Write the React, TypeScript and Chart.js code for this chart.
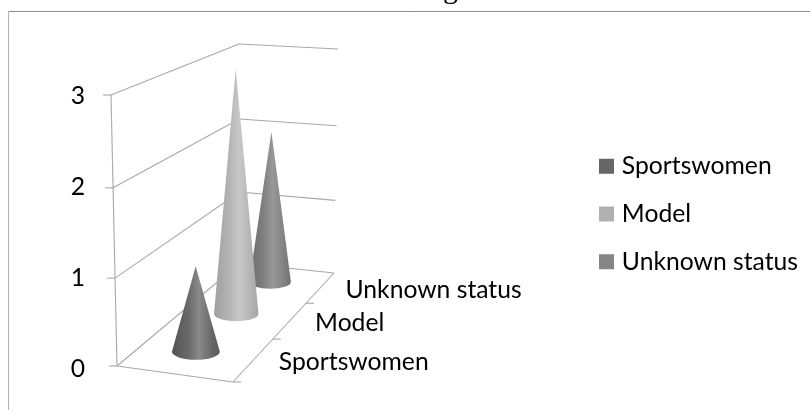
import React, { useEffect, useRef } from "react";
import { Chart, registerables, BarController } from "chart.js";

const categories = ["Sportswomen", "Model", "Unknown status"];
const sportswomen = [1, null, null];
const model = [null, 3, null];
const unknownStatus = [null, null, 2];
const legendColors = ["#666666", "#b0b0b0", "#858585"];
const coneStops = [
  [[0, "#545454"], [0.35, "#6a6a6a"], [0.56, "#8a8a8a"], [0.85, "#666666"], [1, "#5a5a5a"]],
  [[0, "#a0a0a0"], [0.35, "#b4b4b4"], [0.56, "#c8c8c8"], [0.85, "#b2b2b2"], [1, "#a6a6a6"]],
  [[0, "#6c6c6c"], [0.35, "#808080"], [0.56, "#989898"], [0.85, "#808080"], [1, "#727272"]],
];
const tickValues = [0, 1, 2, 3];
const titleFragment = "g";

const FONT = "Lato";
const FONT_SIZE = 24.7;
const GRID = "#a8a8a8";

// Frame of the 3D box: [bottom corner, top corner]
const FL = [[117, 366], [111, 95]];
const BL = [[240, 263], [239, 44]];
const FR = [[233, 382], [228, 102]];
const BR = [[334, 273], [338, 49]];
const PERSPECTIVE = 1.3;
const VERTICAL = 0.96;

const lerp = (a: number, b: number, t: number) => a + (b - a) * t;
const lerpP = (a: number[], b: number[], t: number) => [lerp(a[0], b[0], t), lerp(a[1], b[1], t)];

function project(t: number, u: number, vRaw: number) {
  const f = (PERSPECTIVE * t) / (1 + (PERSPECTIVE - 1) * t);
  const v = (VERTICAL * vRaw) / (1 + (VERTICAL - 1) * vRaw);
  const left = lerpP(lerpP(FL[0], FL[1], v), lerpP(BL[0], BL[1], v), f);
  const right = lerpP(lerpP(FR[0], FR[1], v), lerpP(BR[0], BR[1], v), f);
  return lerpP(left, right, u);
}

class ConeController extends BarController {
  static id = "cone";
  static defaults = BarController.defaults;
  static overrides = BarController.overrides;
  draw() {
    const chart = this.chart;
    const ctx = chart.ctx;
    const meta = this.getMeta();
    const data = this.getDataset().data as (number | null)[];
    const xs = chart.scales.x;
    const ys = chart.scales.y;
    meta.data.forEach((el: any, i: number) => {
      if (data[i] == null) return;
      const t = xs.getDecimalForPixel(xs.getPixelForValue(i));
      const v = ys.getDecimalForPixel(ys.getPixelForValue(data[i] as number));
      const base = project(t, 0.48, 0);
      const tip = project(t, 0.49, v);
      const l = project(t, 0, 0);
      const r = project(t, 1, 0);
      const rx = 0.213 * Math.hypot(r[0] - l[0], r[1] - l[1]);
      const ry = 0.33 * rx;
      const g = ctx.createLinearGradient(base[0] - rx, 0, base[0] + rx, 0);
      coneStops[this.index].forEach(([o, c]) => g.addColorStop(o as number, c as string));
      ctx.save();
      ctx.fillStyle = g;
      ctx.beginPath();
      ctx.moveTo(tip[0], tip[1]);
      ctx.lineTo(base[0] - rx, base[1]);
      ctx.ellipse(base[0], base[1], rx, ry, 0, Math.PI, 0, true);
      ctx.closePath();
      ctx.fill();
      ctx.restore();
    });
  }
}

Chart.register(...registerables, ConeController);

const frame = {
  id: "frame",
  afterLayout(chart: any) {
    const lg = chart.legend;
    lg.top = 154 - lg.options.labels.padding;
    lg.left = 603.5 - lg.options.labels.padding;
    lg.bottom = 410;
  },
  beforeDraw(chart: any) {
    const ctx = chart.ctx;
    ctx.save();
    ctx.strokeStyle = "#8c8c8c";
    ctx.lineWidth = 1;
    ctx.beginPath();
    ctx.moveTo(8.5, 11.5);
    ctx.lineTo(810, 11.5);
    ctx.stroke();
    ctx.strokeStyle = "#b4b4b4";
    ctx.beginPath();
    ctx.moveTo(8.5, 11.5);
    ctx.lineTo(8.5, 410);
    ctx.stroke();
    ctx.fillStyle = "#000";
    ctx.font = '30px "Liberation Serif"';
    ctx.textBaseline = "alphabetic";
    ctx.fillText(titleFragment, 443, -2);
    ctx.restore();
  },
  beforeDatasetsDraw(chart: any) {
    const ctx = chart.ctx;
    const ys = chart.scales.y;
    ctx.save();
    ctx.strokeStyle = GRID;
    ctx.lineWidth = 1.1;
    const seg = (a: number[], b: number[]) => {
      ctx.beginPath();
      ctx.moveTo(a[0], a[1]);
      ctx.lineTo(b[0], b[1]);
      ctx.stroke();
    };
    tickValues.forEach((val) => {
      const v = ys.getDecimalForPixel(ys.getPixelForValue(val));
      const a = project(0, 0, v);
      const b = project(1, 0, v);
      const c = project(1, 1, v);
      seg(a, b);
      seg(b, c);
      seg([a[0] - 8, a[1]], a);
    });
    seg(project(0, 0, 0), project(0, 0, 1));
    seg(project(0, 0, 0), project(0, 1, 0));
    seg(project(0, 1, 0), project(1, 1, 0));
    [0, 1 / 3, 2 / 3].forEach((t) => {
      const p = project(t, 1, 0);
      seg(p, [p[0] + 8, p[1]]);
    });
    ctx.restore();
  },
  afterDatasetsDraw(chart: any) {
    const ctx = chart.ctx;
    const xs = chart.scales.x;
    ctx.save();
    ctx.fillStyle = "#000";
    ctx.font = `${FONT_SIZE}px ${FONT}`;
    ctx.textAlign = "left";
    ctx.textBaseline = "middle";
    categories.forEach((label, i) => {
      const t = xs.getDecimalForPixel(xs.getPixelForValue(i));
      const p = project(t, 1, 0);
      ctx.fillText(label, p[0] + 25, p[1] + 3);
    });
    ctx.restore();
  },
};

export default function App() {
  const ref = useRef<HTMLCanvasElement>(null);
  useEffect(() => {
    document.body.style.margin = "0";
    const mk = (label: string, data: (number | null)[], i: number) => ({
      type: "cone",
      label,
      data,
      backgroundColor: legendColors[i],
      borderColor: legendColors[i],
      borderWidth: 9,
      clip: false,
    });
    const chart = new Chart(ref.current as HTMLCanvasElement, {
      type: "bar",
      data: {
        labels: categories,
        datasets: [
          mk(categories[0], sportswomen, 0),
          mk(categories[1], model, 1),
          mk(categories[2], unknownStatus, 2),
        ] as any,
      },
      plugins: [frame],
      options: {
        animation: false,
        responsive: false,
        events: [],
        layout: { padding: { left: 55, top: 96, bottom: 41, right: 0 } },
        plugins: {
          title: { display: false },
          tooltip: { enabled: false },
          legend: {
            position: "right",
            align: "start",
            labels: {
              boxWidth: 6,
              boxHeight: 6,
              padding: 23,
              color: "#000",
              font: { family: FONT, size: FONT_SIZE },
            },
          },
        },
        scales: {
          x: { type: "category", display: false, offset: true },
          y: {
            type: "linear",
            min: 0,
            max: 3,
            position: "left",
            afterFit: (s: any) => {
              s.width = 30;
            },
            border: { display: false },
            grid: { display: false, drawTicks: false },
            ticks: {
              stepSize: 1,
              padding: 0,
              color: "#000",
              font: { family: FONT, size: FONT_SIZE },
            },
          },
        },
      } as any,
    });
    return () => chart.destroy();
  }, []);
  return (
    <div style={{ width: 810, height: 410 }}>
      <canvas ref={ref} width={810} height={410} style={{ display: "block" }} />
    </div>
  );
}
